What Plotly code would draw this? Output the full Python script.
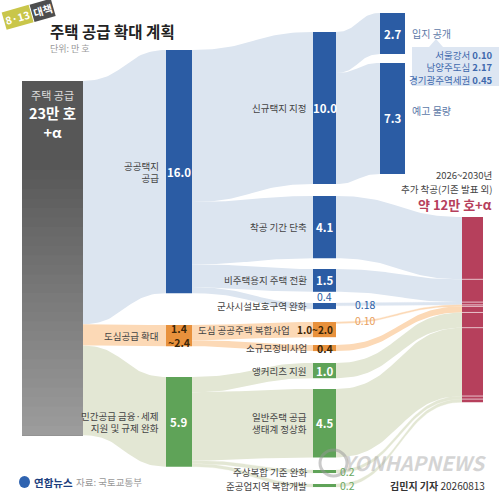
import numpy as np
import plotly.graph_objects as go

# ---- data (단위: 만 호) ----
total_text = "23만 호"
src_labels = ["공공택지<br>공급", "도심공급 확대", "민간공급 금융·세제<br>지원 및 규제 완화"]
src_values = [16.0, 1.4, 5.9]
src_text = ["16.0", "1.4<br>~2.4", "5.9"]

mid_labels = ["신규택지 지정", "착공 기간 단축", "비주택용지 주택 전환", "군사시설보호구역 완화",
              "도심 공공주택 복합사업", "소규모정비사업", "앵커리츠 지원",
              "일반주택 공급<br>생태계 정상화", "주상복합 기준 완화", "준공업지역 복합개발"]
mid_values = [10.0, 4.1, 1.5, 0.4, 1.0, 0.4, 1.0, 4.5, 0.2, 0.2]
mid_text = ["10.0", "4.1", "1.5", "0.4", "1.0~2.0", "0.4", "1.0", "4.5", "0.2", "0.2"]
mid_parent = [0, 0, 0, 0, 1, 1, 2, 2, 2, 2]
to_red = [0, 4.1, 1.5, 0.18, 0.10, 0.4, 1.0, 4.5, 0.2, 0.2]
to_red_text = ["", "", "", "0.18", "0.10", "", "", "", "", ""]

site_labels = ["입지 공개", "예고 물량"]
site_values = [2.7, 7.3]
detail_names = ["서울강서", "남양주도심", "경기광주역세권"]
detail_values = [0.10, 2.17, 0.45]

# ---- layout ----
K = 15.2  # px per 만 호
FONT = "Noto Sans CJK KR"
X_GREY = (22, 83)
X_C1 = (166, 192)
X_C2 = (313, 336)
X_C3 = (380, 405)
X_RED = (462, 483)
grey_top = 81
src_tops = [50, 325, 377]
mid_tops = [32, 196, 269, 303, 322, 345, 363, 389, 470, 484]
site_tops = [13, 63]
red_top = 217

BAR = ["#2b5ca4", "#e8913c", "#5fa358"]
LINK = ["#dce5f0", "#fcd9b6", "#e3e7d4"]
RED = "#b6405c"

fig = go.Figure()
shapes = []
ann = []


def band(xs, ys, xt, yt, h, color):
    t = np.linspace(0, 1, 40)
    xm = (xs + xt) / 2
    bx = (1 - t) ** 3 * xs + 3 * (1 - t) ** 2 * t * xm + 3 * (1 - t) * t ** 2 * xm + t ** 3 * xt
    by = (1 - t) ** 3 * ys + 3 * (1 - t) ** 2 * t * ys + 3 * (1 - t) * t ** 2 * yt + t ** 3 * yt
    fig.add_trace(go.Scatter(x=np.concatenate([bx, bx[::-1]]),
                             y=np.concatenate([by, (by + h)[::-1]]),
                             mode="lines", fill="toself", fillcolor=color,
                             line=dict(width=0.3 if h < 4 else 0, color=color),
                             hoverinfo="skip"))


def rect(x, y0, y1, color):
    shapes.append(dict(type="rect", xref="x", yref="y", x0=x[0], x1=x[1], y0=y0, y1=y1,
                       fillcolor=color, line=dict(width=0), layer="above"))


def text(x, y, s, size=9.5, color="#444", anchor="right", bold=False, ya="middle"):
    ann.append(dict(x=x, y=y, xref="x", yref="y", text=f"<b>{s}</b>" if bold else s,
                    showarrow=False, xanchor=anchor, yanchor=ya, align=anchor if anchor != "center" else "center",
                    font=dict(family=FONT, size=size, color=color)))


# grey box -> first column
y = grey_top
for i, v in enumerate(src_values):
    band(X_GREY[1], y, X_C1[0], src_tops[i], v * K, LINK[i])
    y += v * K
grey_bottom = y

# first column -> second column
offs = list(src_tops)
for j, v in enumerate(mid_values):
    p = mid_parent[j]
    band(X_C1[1], offs[p], X_C2[0], mid_tops[j], v * K, LINK[p])
    offs[p] += v * K

# 신규택지 -> 입지 공개 / 예고 물량
y = mid_tops[0]
for k, v in enumerate(site_values):
    band(X_C2[1], y, X_C3[0], site_tops[k], v * K, LINK[0])
    y += v * K

# second column -> 2026~2030 추가 착공
y = red_top
red_cuts = []
for j, v in enumerate(to_red):
    if v == 0:
        continue
    band(X_C2[1], mid_tops[j], X_RED[0], y, v * K, LINK[mid_parent[j]])
    y += v * K
    red_cuts.append(y)
red_bottom = y

# grey box with soft gradient
rect(X_GREY, grey_top, grey_bottom, "#575757")
n = 28
g0 = 170
for i in range(n):
    a = g0 + (grey_bottom - g0) * i / n
    c = int(0x58 + (0x9c - 0x58) * (i + 1) / n)
    rect(X_GREY, a, grey_bottom, f"rgb({c},{c},{c})")

# nodes
for i, v in enumerate(src_values):
    rect(X_C1, src_tops[i], src_tops[i] + v * K, BAR[i])
for j, v in enumerate(mid_values):
    rect(X_C2, mid_tops[j], mid_tops[j] + v * K, BAR[mid_parent[j]])
for k, v in enumerate(site_values):
    rect(X_C3, site_tops[k], site_tops[k] + v * K, BAR[0])
rect(X_RED, red_top, red_bottom, RED)
for c in red_cuts[:-1]:
    shapes.append(dict(type="line", xref="x", yref="y", x0=X_RED[0], x1=X_RED[1], y0=c, y1=c,
                       line=dict(color="rgba(255,255,255,0.85)", width=0.8), layer="above"))

# callout box
shapes.append(dict(type="rect", xref="x", yref="y", x0=412, x1=499, y0=47, y1=86,
                   fillcolor="#dde6f2", line=dict(width=0), layer="above"))
shapes.append(dict(type="path", xref="x", yref="y", path="M 429 47 L 436 39 L 443 47 Z",
                   fillcolor="#dde6f2", line=dict(width=0), layer="above"))

# ---- texts ----
text(48, 31, "주택 공급 확대 계획", size=15.5, color="#222", anchor="left", bold=True)
text(48, 48, "단위: 만 호", size=9, color="#999", anchor="left")
ann.append(dict(x=17, y=17, xref="x", yref="y", text="<b>8·13</b>", showarrow=False,
                textangle=-16, bgcolor="#c9c64a", borderpad=1,
                font=dict(family=FONT, size=10.5, color="white")))
ann.append(dict(x=42, y=10, xref="x", yref="y", text="<b>대책</b>", showarrow=False,
                textangle=-16, bgcolor="#4d4d4d", borderpad=1,
                font=dict(family=FONT, size=10.5, color="white")))

cx = sum(X_GREY) / 2
text(cx, 114, f"<span style='font-size:11px;color:#dddddd'>주택 공급</span><br>"
              f"<b>{total_text}</b><br><b>+α</b>", size=14.5, color="white", anchor="center")

c1 = sum(X_C1) / 2
for i, v in enumerate(src_values):
    ym = src_tops[i] + v * K / 2
    text(X_C1[0] - 5, ym, src_labels[i], size=9.5)
    text(c1, ym, src_text[i], size=11.5 if i != 1 else 10.5,
         color="white" if i != 1 else "#3b2608", anchor="center", bold=True)

c2 = sum(X_C2) / 2
for j, v in enumerate(mid_values):
    ym = mid_tops[j] + v * K / 2
    p = mid_parent[j]
    if j == 4:
        text(X_C2[1] - 1, ym, mid_text[j], size=10, color="#3b2608", anchor="right", bold=True)
        text(X_C2[0] - 21, ym, mid_labels[j], size=9.5)
        continue
    text(X_C2[0] - 4, ym, mid_labels[j], size=9.5)
    if v >= 1:
        text(c2, ym, mid_text[j], size=11.5, color="white", anchor="center", bold=True)
    elif p == 0:
        text(c2, mid_tops[j] - 7, mid_text[j], size=10.5, color=BAR[0], anchor="center")
    elif p == 1:
        text(c2, ym, mid_text[j], size=10.5, color="#3b2608", anchor="center", bold=True)
    else:
        text(X_C2[1] + 2, ym, mid_text[j], size=10.5, color="#6aa85f", anchor="left")

for j, s in enumerate(to_red_text):
    if s:
        col = BAR[0] if mid_parent[j] == 0 else "#e8a060"
        text(365, mid_tops[j] + (1 if j == 3 else -2), s, size=10.5, color=col, anchor="center")

c3 = sum(X_C3) / 2
for k, v in enumerate(site_values):
    ym = site_tops[k] + v * K / 2
    text(c3, ym, f"{v:.1f}", size=11.5, color="white", anchor="center", bold=True)
    text(X_C3[1] + 5, ym if k == 0 else ym - 8, site_labels[k], size=10, color="#5d79a8", anchor="left")

detail = "<br>".join(f"{nm} <b>{v:.2f}</b>" for nm, v in zip(detail_names, detail_values))
text(495, 67, detail, size=9.5, color="#3f69ad")

text(494, 175, "2026~2030년", size=9.5, color="#444")
text(494, 189, "추가 착공(기존 발표 외)", size=9.5, color="#444")
text(494, 204, "약 12만 호+α", size=13, color=RED, bold=True)

# footer
shapes.append(dict(type="circle", xref="x", yref="y", x0=19, x1=30, y0=476, y1=488,
                   fillcolor="#2f63b0", line=dict(width=0), layer="above"))
text(32, 482, "연합뉴스", size=10.5, color="#1e3f7e", anchor="left", bold=True)
text(74, 482, "자료: 국토교통부", size=9.5, color="#999", anchor="left")
text(487, 485, "<b>김민지 기자</b> 20260813", size=10, color="#333")
shapes.append(dict(type="circle", xref="x", yref="y", x0=320, x1=347, y0=450, y1=476,
                   fillcolor="rgba(0,0,0,0)", line=dict(color="rgba(150,150,150,0.5)", width=3),
                   layer="above"))
text(488, 462, "<b><i>YONHAPNEWS</i></b>", size=20, color="rgba(170,170,170,0.5)")

fig.update_layout(
    width=500, height=499, margin=dict(l=0, r=0, t=0, b=0),
    paper_bgcolor="white", plot_bgcolor="white", showlegend=False,
    xaxis=dict(range=[0, 500], visible=False, fixedrange=True),
    yaxis=dict(range=[499, 0], visible=False, fixedrange=True),
    shapes=shapes, annotations=ann,
)
fig.write_html("out.html", config={"displayModeBar": False},
               post_script="document.body.style.margin='0';")
